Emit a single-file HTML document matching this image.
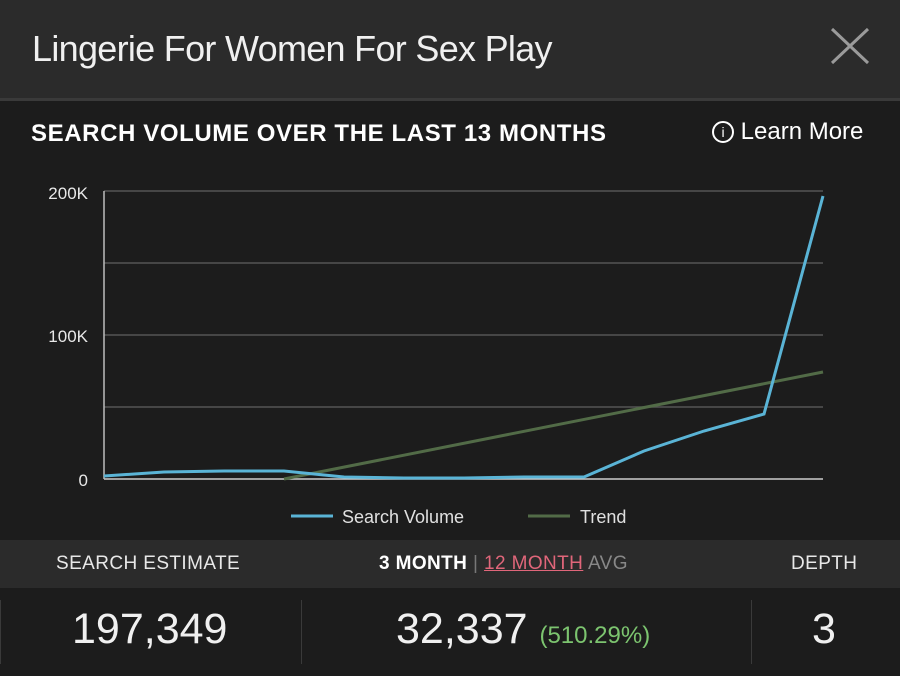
<!DOCTYPE html>
<html><head><style>
body{margin:0;width:900px;height:676px;background:#1c1c1c;font-family:"Liberation Sans",sans-serif;overflow:hidden;position:relative;color:#fff}
.hdr{position:absolute;left:0;top:0;width:900px;height:98px;background:#2b2b2b;border-bottom:3px solid #3a3a3a}
.t{position:absolute;left:32px;top:28px;font-size:36px;color:#f0f0f0;letter-spacing:-0.7px}
.sub{position:absolute;left:31px;top:120px;font-size:24px;font-weight:bold;letter-spacing:0.6px}
.lm{position:absolute;left:712px;top:118px;font-size:24px;letter-spacing:0}
.band{position:absolute;left:0;top:540px;width:900px;height:48px;background:#2b2b2b}
.bt{position:absolute;top:553px;font-size:19px;color:#e8e8e8;letter-spacing:0.4px}
.num{position:absolute;top:605px;font-size:43px;color:#f0f0f0}
.sep{position:absolute;top:600px;width:1px;height:64px;background:#3a3a3a}
</style></head><body>
<div class="hdr"><div class="t">Lingerie For Women For Sex Play</div>
<svg style="position:absolute;left:830px;top:27px" width="40" height="38"><path d="M2 2L38 36M38 2L2 36" stroke="#9a9a9a" stroke-width="3"/></svg></div>
<div class="sub">SEARCH VOLUME OVER THE LAST 13 MONTHS</div>
<div class="lm"><span style="display:inline-block;border:2px solid #fff;border-radius:50%;font-size:14px;text-align:center;vertical-align:2px;box-sizing:border-box;width:22px;height:22px;line-height:18px">i</span> Learn More</div>
<svg style="position:absolute;left:0;top:0" width="900" height="540">
<g stroke="#555" stroke-width="1.5"><line x1="104" x2="823" y1="191" y2="191"/><line x1="104" x2="823" y1="263" y2="263"/><line x1="104" x2="823" y1="335" y2="335"/><line x1="104" x2="823" y1="407" y2="407"/><line x1="104" x2="823" y1="479" y2="479" stroke="#ccc"/><line x1="104" x2="104" y1="191" y2="479" stroke="#bbb"/></g>
<g fill="#e8e8e8" font-size="17" text-anchor="end"><text x="88" y="199">200K</text><text x="88" y="342">100K</text><text x="88" y="486">0</text></g>
<line x1="284" y1="479" x2="823" y2="372" stroke="#526b47" stroke-width="3"/>
<polyline fill="none" stroke="#5ab4d6" stroke-width="3" points="104,476 164,472 224,471 284,471 344,477 404,478 464,478 524,477 584,477 644,451 704,431 764,414 823,196"/>
<line x1="291" x2="333" y1="516" y2="516" stroke="#5ab4d6" stroke-width="3"/>
<text x="342" y="523" fill="#e0e0e0" font-size="18">Search Volume</text>
<line x1="528" x2="570" y1="516" y2="516" stroke="#526b47" stroke-width="3"/>
<text x="580" y="523" fill="#e0e0e0" font-size="18">Trend</text>
</svg>
<div class="band"></div>
<div class="bt" style="left:56px">SEARCH ESTIMATE</div>
<div class="bt" style="left:379px"><b style="color:#fff">3 MONTH</b> <span style="color:#777">|</span> <span style="color:#e0667a;text-decoration:underline">12 MONTH</span> <span style="color:#888">AVG</span></div>
<div class="bt" style="left:791px">DEPTH</div>
<div class="sep" style="left:0"></div><div class="sep" style="left:301px"></div><div class="sep" style="left:751px"></div>
<div class="num" style="left:72px">197,349</div>
<div class="num" style="left:396px">32,337 <span style="font-size:24px;color:#7cc46f">(510.29%)</span></div>
<div class="num" style="left:812px">3</div>
</body></html>
